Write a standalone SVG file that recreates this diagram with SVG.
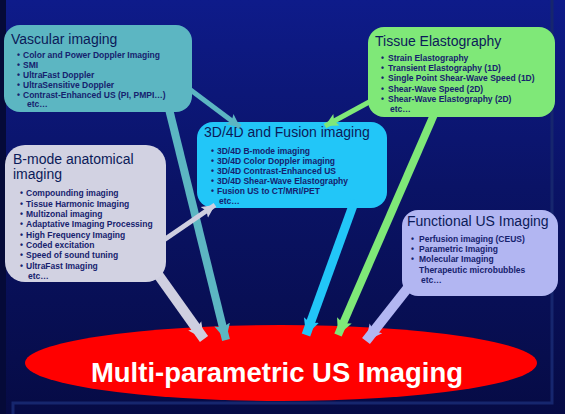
<svg xmlns="http://www.w3.org/2000/svg" width="565" height="414" viewBox="0 0 565 414">
<defs>
<linearGradient id="bg" x1="0" y1="0" x2="0" y2="1">
<stop offset="0" stop-color="#0e1b8a"/>
<stop offset="0.45" stop-color="#0a1366"/>
<stop offset="1" stop-color="#060b45"/>
</linearGradient>
<marker id="hTeal" viewBox="0 0 10 10" refX="10" refY="5" markerWidth="13" markerHeight="15" markerUnits="userSpaceOnUse" orient="auto"><path d="M0,0 L10,5 L0,10 L2,5 Z" fill="#5cb6c2"/></marker>
<marker id="hTealB" viewBox="0 0 10 10" refX="10" refY="5" markerWidth="16" markerHeight="20" markerUnits="userSpaceOnUse" orient="auto"><path d="M0,0 L10,5 L0,10 L2,5 Z" fill="#5cb6c2"/></marker>
<marker id="hGreen" viewBox="0 0 10 10" refX="10" refY="5" markerWidth="13" markerHeight="15" markerUnits="userSpaceOnUse" orient="auto"><path d="M0,0 L10,5 L0,10 L2,5 Z" fill="#7fe878"/></marker>
<marker id="hGreenB" viewBox="0 0 10 10" refX="10" refY="5" markerWidth="16" markerHeight="20" markerUnits="userSpaceOnUse" orient="auto"><path d="M0,0 L10,5 L0,10 L2,5 Z" fill="#7fe878"/></marker>
<marker id="hGray" viewBox="0 0 10 10" refX="10" refY="5" markerWidth="13" markerHeight="15" markerUnits="userSpaceOnUse" orient="auto"><path d="M0,0 L10,5 L0,10 L2,5 Z" fill="#cfcfe0"/></marker>
<marker id="hGrayB" viewBox="0 0 10 10" refX="10" refY="5" markerWidth="16" markerHeight="22" markerUnits="userSpaceOnUse" orient="auto"><path d="M0,0 L10,5 L0,10 L2,5 Z" fill="#cfcfe0"/></marker>
<marker id="hCyan" viewBox="0 0 10 10" refX="10" refY="5" markerWidth="16" markerHeight="20" markerUnits="userSpaceOnUse" orient="auto"><path d="M0,0 L10,5 L0,10 L2,5 Z" fill="#22c6f8"/></marker>
<marker id="hLav" viewBox="0 0 10 10" refX="10" refY="5" markerWidth="16" markerHeight="22" markerUnits="userSpaceOnUse" orient="auto"><path d="M0,0 L10,5 L0,10 L2,5 Z" fill="#b2b6f2"/></marker>
</defs>
<style>
.title{font-family:"Liberation Sans","Arial",sans-serif;font-size:14px;fill:#0b1a58}
.item{font-family:"Liberation Sans","Arial",sans-serif;font-size:8.5px;font-weight:bold;fill:#16226e}
.conn{fill:none}
</style>
<rect x="0" y="0" width="565" height="414" fill="url(#bg)"/>
<rect x="0" y="0" width="6" height="414" fill="#050a38"/>
<path d="M13,414 L13,403 L552,403 L552,0" fill="none" stroke="#16266e" stroke-width="3"/>

<g id="ellipse-multiparametric">
<ellipse cx="281" cy="363" rx="256" ry="38" fill="#ff0000"/>
<text x="277" y="382" text-anchor="middle" textLength="372" lengthAdjust="spacingAndGlyphs" font-family="Liberation Sans, Arial, sans-serif" font-size="28" font-weight="bold" fill="#ffffff">Multi-parametric US Imaging</text>
</g>

<g id="node-3d4d">
<rect x="197" y="122" width="190" height="86" rx="16" fill="#22c6f8"/>
<text class="title" x="204" y="137">3D/4D and Fusion imaging</text>
<text class="item" x="211" y="154">•</text><text class="item" x="217" y="154">3D/4D B-mode imaging</text>
<text class="item" x="211" y="164">•</text><text class="item" x="217" y="164">3D/4D Color Doppler imaging</text>
<text class="item" x="211" y="174">•</text><text class="item" x="217" y="174">3D/4D Contrast-Enhanced US</text>
<text class="item" x="211" y="184">•</text><text class="item" x="217" y="184">3D/4D Shear-Wave Elastography</text>
<text class="item" x="211" y="194">•</text><text class="item" x="217" y="194">Fusion US to CT/MRI/PET</text>
<text class="item" x="219" y="204">etc…</text>
</g>

<g id="connectors">
<line class="conn" x1="188" y1="88" x2="240" y2="127" stroke="#5cb6c2" stroke-width="5" marker-end="url(#hTeal)"/>
<line class="conn" x1="168" y1="105" x2="226" y2="340" stroke="#5cb6c2" stroke-width="8" marker-end="url(#hTealB)"/>
<line class="conn" x1="382" y1="95" x2="325" y2="126" stroke="#7fe878" stroke-width="5" marker-end="url(#hGreen)"/>
<line class="conn" x1="436" y1="110" x2="338" y2="335" stroke="#7fe878" stroke-width="8" marker-end="url(#hGreenB)"/>
<line class="conn" x1="158" y1="244" x2="215" y2="205" stroke="#cfcfe0" stroke-width="5" marker-end="url(#hGray)"/>
<line class="conn" x1="152" y1="266" x2="204" y2="339" stroke="#cfcfe0" stroke-width="10" marker-end="url(#hGrayB)"/>
<line class="conn" x1="355" y1="200" x2="306" y2="335" stroke="#22c6f8" stroke-width="9" marker-end="url(#hCyan)"/>
<line class="conn" x1="414" y1="280" x2="366" y2="341" stroke="#b2b6f2" stroke-width="10" marker-end="url(#hLav)"/>
</g>

<g id="node-vascular">
<rect x="4" y="25" width="188" height="87" rx="16" fill="#5cb6c2"/>
<text class="title" x="11" y="44">Vascular imaging</text>
<text class="item" x="17" y="58">•</text><text class="item" x="23" y="58">Color and Power Doppler Imaging</text>
<text class="item" x="17" y="68">•</text><text class="item" x="23" y="68">SMI</text>
<text class="item" x="17" y="78">•</text><text class="item" x="23" y="78">UltraFast Doppler</text>
<text class="item" x="17" y="88">•</text><text class="item" x="23" y="88">UltraSensitive Doppler</text>
<text class="item" x="17" y="98">•</text><text class="item" x="23" y="98">Contrast-Enhanced US (PI, PMPI…)</text>
<text class="item" x="27" y="107">etc…</text>
</g>

<g id="node-tissue">
<rect x="368" y="27" width="187" height="90" rx="16" fill="#7fe878"/>
<text class="title" x="375" y="46">Tissue Elastography</text>
<text class="item" x="381" y="61">•</text><text class="item" x="388" y="61">Strain Elastography</text>
<text class="item" x="381" y="71">•</text><text class="item" x="388" y="71">Transient Elastography (1D)</text>
<text class="item" x="381" y="81">•</text><text class="item" x="388" y="81">Single Point Shear-Wave Speed (1D)</text>
<text class="item" x="381" y="91.5">•</text><text class="item" x="388" y="91.5">Shear-Wave Speed (2D)</text>
<text class="item" x="381" y="102">•</text><text class="item" x="388" y="102">Shear-Wave Elastography (2D)</text>
<text class="item" x="390" y="112">etc…</text>
</g>

<g id="node-bmode">
<rect x="5" y="145" width="161" height="137" rx="20" fill="#d2d2e2"/>
<text class="title" x="13" y="164" font-size="13.5">B-mode anatomical</text>
<text class="title" x="13" y="179.3" font-size="13.5">imaging</text>
<text class="item" x="20" y="196">•</text><text class="item" x="26" y="196">Compounding imaging</text>
<text class="item" x="20" y="206.5">•</text><text class="item" x="26" y="206.5">Tissue Harmonic Imaging</text>
<text class="item" x="20" y="217">•</text><text class="item" x="26" y="217">Multizonal imaging</text>
<text class="item" x="20" y="227">•</text><text class="item" x="26" y="227">Adaptative Imaging Processing</text>
<text class="item" x="20" y="237.5">•</text><text class="item" x="26" y="237.5">High Frequency Imaging</text>
<text class="item" x="20" y="248">•</text><text class="item" x="26" y="248">Coded excitation</text>
<text class="item" x="20" y="258">•</text><text class="item" x="26" y="258">Speed of sound tuning</text>
<text class="item" x="20" y="269">•</text><text class="item" x="26" y="269">UltraFast Imaging</text>
<text class="item" x="28" y="279">etc…</text>
</g>

<g id="node-functional">
<rect x="402" y="210" width="156" height="86" rx="16" fill="#b2b6f2"/>
<text class="title" x="407" y="226">Functional US Imaging</text>
<text class="item" x="411" y="242">•</text><text class="item" x="419" y="242">Perfusion imaging (CEUS)</text>
<text class="item" x="411" y="252">•</text><text class="item" x="419" y="252">Parametric Imaging</text>
<text class="item" x="411" y="262">•</text><text class="item" x="419" y="262">Molecular Imaging</text>
<text class="item" x="419" y="273">Therapeutic microbubbles</text>
<text class="item" x="421" y="283">etc…</text>
</g>
</svg>
